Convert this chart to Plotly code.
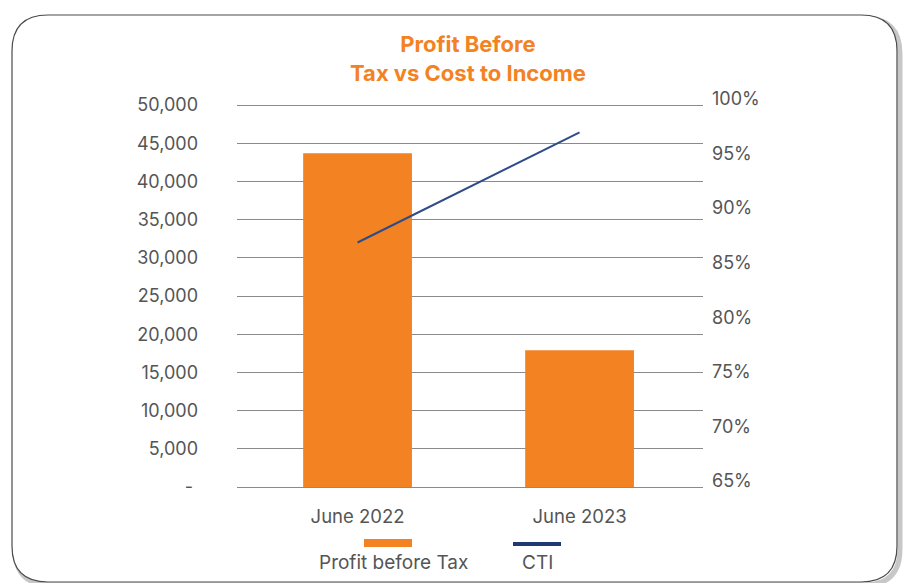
import plotly.graph_objects as go

categories = ["June 2022", "June 2023"]
profit_before_tax = [43700, 17900]
cti_pct = [87.4, 97.5]
series_names = ["Profit before Tax", "CTI"]
left_tickvals = [0, 5000, 10000, 15000, 20000, 25000, 30000, 35000, 40000, 45000, 50000]
left_ticktext = ["-\u00a0", "5,000", "10,000", "15,000", "20,000", "25,000",
                 "30,000", "35,000", "40,000", "45,000", "50,000"]
right_tickvals = [65, 70, 75, 80, 85, 90, 95, 100]
right_ticktext = ["65%", "70%", "75%", "80%", "85%", "90%", "95%", "100%"]
title_text = "Profit Before<br>Tax vs Cost to Income"

W, H = 913, 583
L, R, T, B = 237, 703, 102, 490

ORANGE = "#F28222"
NAVY = "#2F4B88"
TXT = "#555555"
FONT = "Inter"


def px(x):
    return (x - L) / (R - L)


def py(y):
    return (B - y) / (B - T)


def rounded(x0, y0, x1, y1, r):
    pts = []
    pts.append(f"M {px(x0 + r)},{py(y0)}")
    pts.append(f"L {px(x1 - r)},{py(y0)}")
    pts.append(f"Q {px(x1)},{py(y0)} {px(x1)},{py(y0 + r)}")
    pts.append(f"L {px(x1)},{py(y1 - r)}")
    pts.append(f"Q {px(x1)},{py(y1)} {px(x1 - r)},{py(y1)}")
    pts.append(f"L {px(x0 + r)},{py(y1)}")
    pts.append(f"Q {px(x0)},{py(y1)} {px(x0)},{py(y1 - r)}")
    pts.append(f"L {px(x0)},{py(y0 + r)}")
    pts.append(f"Q {px(x0)},{py(y0)} {px(x0 + r)},{py(y0)}")
    pts.append("Z")
    return " ".join(pts)


fig = go.Figure()
fig.add_trace(go.Bar(
    x=categories, y=profit_before_tax, name=series_names[0],
    marker=dict(color=ORANGE, line=dict(width=0)), width=0.49,
    showlegend=False, yaxis="y",
))
fig.add_trace(go.Scatter(
    x=categories, y=cti_pct, name=series_names[1], mode="lines",
    line=dict(color=NAVY, width=2), showlegend=False, yaxis="y2",
))

shapes = [
    dict(type="path", xref="paper", yref="paper", layer="below",
         path=rounded(15, 18, 900, 585, 36),
         line=dict(color="rgba(0,0,0,0.22)", width=5)),
    dict(type="path", xref="paper", yref="paper", layer="below",
         path=rounded(12, 15, 897, 582, 36),
         fillcolor="white", line=dict(color="#4a4a4a", width=1.2)),
    # legend symbols
    dict(type="line", xref="paper", yref="paper",
         x0=px(364), x1=px(412), y0=py(543), y1=py(543),
         line=dict(color=ORANGE, width=8)),
    dict(type="line", xref="paper", yref="paper",
         x0=px(513), x1=px(561), y0=py(544), y1=py(544),
         line=dict(color="#1F3A73", width=4)),
]

annotations = [
    dict(text=series_names[0], xref="paper", yref="paper", x=px(393), y=py(562),
         showarrow=False, xanchor="center", yanchor="middle",
         font=dict(family=FONT, size=19, color=TXT)),
    dict(text=series_names[1], xref="paper", yref="paper", x=px(537), y=py(562),
         showarrow=False, xanchor="center", yanchor="middle",
         font=dict(family=FONT, size=19, color=TXT)),
]

fig.update_layout(
    width=W, height=H,
    margin=dict(l=L, r=W - R, t=T, b=H - B, pad=0),
    paper_bgcolor="white", plot_bgcolor="rgba(0,0,0,0)",
    font=dict(family=FONT, size=18, color=TXT),
    title=dict(text=title_text, xref="container", yref="container",
               x=468 / W, xanchor="center", y=1 - 52 / H, yanchor="middle",
               font=dict(family=FONT, size=22, color=ORANGE, weight="bold")),
    xaxis=dict(type="category", range=[-0.543, 1.556], showgrid=False, showline=False,
               zeroline=False, ticks="", ticklabelstandoff=13,
               tickfont=dict(family=FONT, size=18.5, color=TXT)),
    yaxis=dict(range=[-393, 50393], tickvals=left_tickvals, ticktext=left_ticktext,
               showgrid=True, gridcolor="#8a8a8a", gridwidth=1.2, zeroline=False,
               showline=False, ticks="", ticklabelstandoff=38,
               tickfont=dict(family=FONT, size=18, color=TXT)),
    yaxis2=dict(range=[64.725, 100.275], tickvals=right_tickvals, ticktext=right_ticktext,
                overlaying="y", side="right", showgrid=False, zeroline=False,
                showline=False, ticks="", ticklabelstandoff=8, ticklabelshift=-6,
                tickfont=dict(family=FONT, size=18, color=TXT)),
    shapes=shapes, annotations=annotations,
)

fig.write_html("out.html", config={"displayModeBar": False},
               post_script="document.body.style.margin='0';document.body.style.overflow='hidden';")
